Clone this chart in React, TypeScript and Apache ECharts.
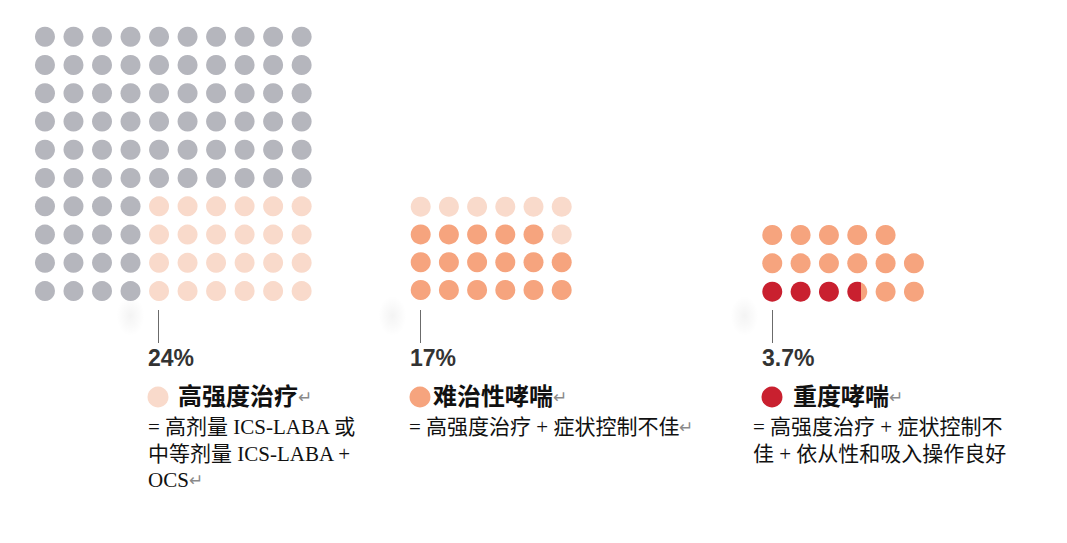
import React, { useEffect, useRef } from "react";
import * as echarts from "echarts";

// ---- data ----
const categories = ["高强度治疗", "难治性哮喘", "重度哮喘"];
const percentLabels = ["24%", "17%", "3.7%"];
const percentValues = [24, 17, 3.7];
const totalPopulation = 100; // 10 x 10 grid
const highIntensityBlock = [4, 6]; // rows x cols of the 24 highlighted dots
const difficultBase = 24; // dots in 2nd group (= high-intensity)
const severeBase = 17; // dots in 3rd group (= difficult to treat)
const descriptions = [
  ["= 高剂量 ICS-LABA 或", "中等剂量 ICS-LABA +", "OCS"],
  ["= 高强度治疗 + 症状控制不佳"],
  ["= 高强度治疗 + 症状控制不", "佳 + 依从性和吸入操作良好"],
];
const endMarks = [true, true, false];

// ---- styles ----
const GRAY = "#b5b6bd";
const PINK = "#f9dacb";
const ORANGE = "#f6a47e";
const RED = "#c9202f";

const SERIF = '"Liberation Serif", "Noto Sans CJK SC", serif';

export default function App() {
  const ref = useRef<HTMLDivElement>(null);
  useEffect(() => {
    const chart = echarts.init(ref.current!, undefined, { renderer: "svg" });

    // group 1: 10 x 10
    const g1: any[] = [];
    const side = Math.sqrt(totalPopulation);
    for (let r = 0; r < side; r++) {
      for (let c = 0; c < side; c++) {
        const hi = r >= side - highIntensityBlock[0] && c >= side - highIntensityBlock[1];
        g1.push({ value: [c, r], itemStyle: { color: hi ? PINK : GRAY, opacity: 1 } });
      }
    }
    // group 2: 24 dots, 6 columns, filled bottom-up
    const cols2 = 6;
    const rows2 = Math.ceil(difficultBase / cols2);
    const g2: any[] = [];
    for (let k = 0; k < difficultBase; k++) {
      const r = rows2 - 1 - Math.floor(k / cols2);
      const c = k % cols2;
      g2.push({ value: [c, r], itemStyle: { color: k < percentValues[1] ? ORANGE : PINK, opacity: 1 } });
    }
    // group 3: 17 dots, 6 columns, filled bottom-up
    const rows3 = Math.ceil(severeBase / cols2);
    const g3: any[] = [];
    for (let k = 0; k < severeBase; k++) {
      const r = rows3 - 1 - Math.floor(k / cols2);
      const c = k % cols2;
      const frac = Math.max(0, Math.min(1, percentValues[2] - k));
      let color: any = ORANGE;
      if (frac >= 1) color = RED;
      else if (frac > 0)
        color = new echarts.graphic.LinearGradient(0, 0, 1, 0, [
          { offset: 0, color: RED },
          { offset: frac, color: RED },
          { offset: frac, color: ORANGE },
          { offset: 1, color: ORANGE },
        ]);
      g3.push({ value: [c, r], itemStyle: { color, opacity: 1 } });
    }

    const grids = [
      { left: 30.7, top: 22.6, width: 285.2, height: 282.6, cols: side, rows: side },
      { left: 406.6, top: 192.8, width: 169.2, height: 111.1, cols: cols2, rows: rows2 },
      { left: 758.1, top: 220.8, width: 170, height: 85, cols: cols2, rows: rows3 },
    ];

    const lineX = [158.5, 420.5, 772.5];
    const textX = [148, 410, 762];
    const legendTextX = [178, 433, 793];
    const descX = [148, 409, 753];
    const legendColors = [PINK, ORANGE, RED];

    const graphics: any[] = [];
    for (let i = 0; i < 3; i++) {
      // faint ghost blobs
      graphics.push({
        type: "ellipse",
        shape: { cx: lineX[i] - 28, cy: 316, rx: 14, ry: 20 },
        style: {
          fill: new echarts.graphic.RadialGradient(0.5, 0.5, 0.5, [
            { offset: 0, color: "rgba(0,0,0,0.045)" },
            { offset: 1, color: "rgba(0,0,0,0)" },
          ]),
        },
        silent: true,
      });
      graphics.push({
        type: "line",
        shape: { x1: lineX[i], y1: 310, x2: lineX[i], y2: 343 },
        style: { stroke: "#6b6b6b", lineWidth: 1 },
      });
      graphics.push({
        type: "text",
        x: textX[i],
        y: 358,
        style: {
          text: percentLabels[i],
          font: 'bold 23px "Liberation Sans", Arial, sans-serif',
          fill: "#333333",
          verticalAlign: "middle",
        },
      });
      graphics.push({
        type: "circle",
        shape: { cx: lineX[i] - 0.5, cy: 397, r: 10.5 },
        style: { fill: legendColors[i] },
      });
      graphics.push({
        type: "text",
        x: legendTextX[i],
        y: 397,
        style: {
          text: `{t|${categories[i]}}{m|↵}`,
          verticalAlign: "middle",
          rich: {
            t: { fontSize: 24, fontWeight: "bold", fontFamily: SERIF, fill: "#111111" },
            m: { fontSize: 17, fontFamily: SERIF, fill: "#8a8a8a" },
          },
        },
      });
      const lines = descriptions[i];
      const richLines = lines
        .map((ln, j) => {
          const esc = `{d|${ln}}`;
          return j === lines.length - 1 && endMarks[i] ? esc + "{m|↵}" : esc;
        })
        .join("\n");
      graphics.push({
        type: "text",
        x: descX[i],
        y: 414,
        style: {
          text: richLines,
          verticalAlign: "top",
          rich: {
            d: { fontSize: 21, fontFamily: SERIF, fill: "#111111", lineHeight: 26.5 },
            m: { fontSize: 17, fontFamily: SERIF, fill: "#8a8a8a", lineHeight: 26.5 },
          },
        },
      });
    }

    chart.setOption({
      animation: false,
      backgroundColor: "#ffffff",
      grid: grids.map((g) => ({ left: g.left, top: g.top, width: g.width, height: g.height })),
      xAxis: grids.map((g, i) => ({
        type: "value",
        gridIndex: i,
        min: -0.5,
        max: g.cols - 0.5,
        show: false,
      })),
      yAxis: grids.map((g, i) => ({
        type: "value",
        gridIndex: i,
        min: -0.5,
        max: g.rows - 0.5,
        inverse: true,
        show: false,
      })),
      series: [g1, g2, g3].map((d, i) => ({
        type: "scatter",
        xAxisIndex: i,
        yAxisIndex: i,
        symbol: "circle",
        symbolSize: 20,
        silent: true,
        itemStyle: { opacity: 1 },
        data: d,
      })),
      graphic: graphics,
    });
    return () => chart.dispose();
  }, []);
  return (
    <div
      ref={ref}
      style={{ position: "fixed", left: 0, top: 0, width: 1067, height: 543 }}
    />
  );
}
